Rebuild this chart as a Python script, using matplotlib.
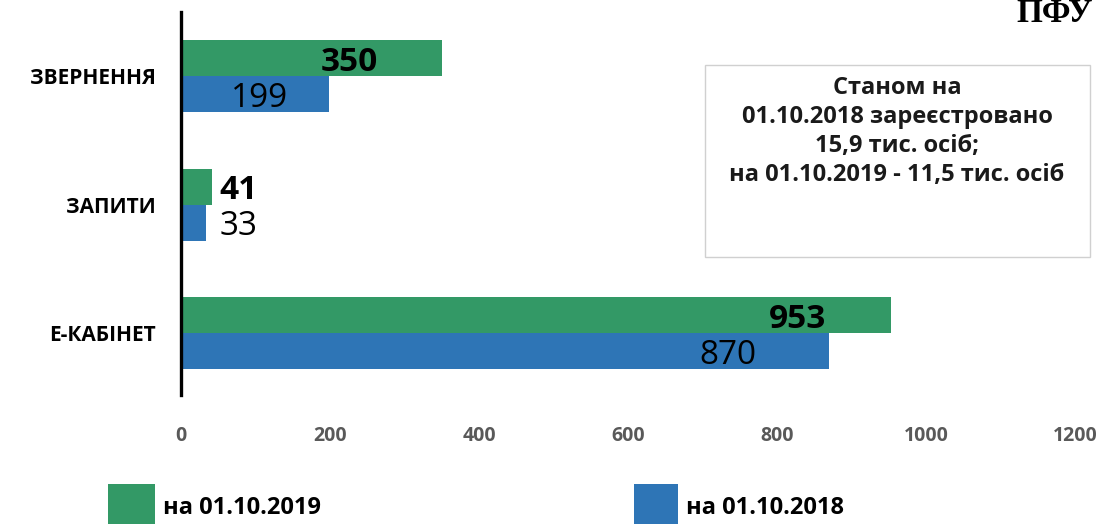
import matplotlib
matplotlib.use('Agg')
import matplotlib.pyplot as plt
import numpy as np
from matplotlib.patches import Rectangle

categories = ['ЗВЕРНЕННЯ', 'ЗАПИТИ', 'Е-КАБІНЕТ']
values_2019 = [350, 41, 953]
values_2018 = [199, 33, 870]
label_2019 = 'на 01.10.2019'
label_2018 = 'на 01.10.2018'
xticks = [0, 200, 400, 600, 800, 1000, 1200]
note_lines = ['Станом на', '01.10.2018 зареєстровано', '15,9 тис. осіб;',
              'на 01.10.2019 - 11,5 тис. осіб']

# where the value labels sit (data x) and how they are aligned
lab_x_2019 = [264, 52, 866]
lab_x_2018 = [144, 52, 773]
lab_ha = ['right', 'left', 'right']

green = '#339966'
blue = '#2e75b6'

plt.rcParams['font.family'] = ['Open Sans', 'DejaVu Sans']

W, H = 1098, 524
fig = plt.figure(figsize=(W / 100, H / 100), dpi=100)
ax = fig.add_axes([181 / W, (H - 395) / H, (1075 - 181) / W, (395 - 12) / H])

y = np.arange(len(categories))
h = 0.28
ax.barh(y - h / 2, values_2019, height=h, color=green)
ax.barh(y + h / 2, values_2018, height=h, color=blue)

for i in range(len(categories)):
    ax.text(lab_x_2019[i], y[i] - h / 2 + 0.03, str(values_2019[i]), ha=lab_ha[i],
            va='center', fontsize=24, fontweight='bold', color='black')
    ax.text(lab_x_2018[i], y[i] + h / 2 + 0.03, str(values_2018[i]), ha=lab_ha[i],
            va='center', fontsize=24, color='black')

ax.set_xlim(0, 1200)
ax.set_ylim(2.48, -0.5)
ax.set_xticks(xticks)
ax.set_xticklabels([str(t) for t in xticks], fontsize=14, fontweight='bold', color='#595959')
ax.set_yticks(y)
ax.set_yticklabels(categories, fontsize=15, fontweight='bold', color='black')
ax.tick_params(axis='x', length=0, pad=22)
ax.tick_params(axis='y', length=0, pad=18)
for s in ['top', 'right', 'bottom']:
    ax.spines[s].set_visible(False)
ax.spines['left'].set_linewidth(2.4)
ax.spines['left'].set_color('black')

# note box
fig.patches.append(Rectangle((705 / W, (H - 257) / H), (1090 - 705) / W, (257 - 65) / H,
                             transform=fig.transFigure, facecolor='white',
                             edgecolor='#d0d0d0', linewidth=1))
for k, line in enumerate(note_lines):
    fig.text(897 / W, (H - 88 - 29 * k) / H, line, ha='center', va='center',
             fontsize=17, fontweight='bold', color='#1a1a1a')

# legend
fig.patches.append(Rectangle((108 / W, 0), 47 / W, 40 / H, transform=fig.transFigure,
                             facecolor=green, edgecolor='none'))
fig.patches.append(Rectangle((634 / W, 0), 44 / W, 40 / H, transform=fig.transFigure,
                             facecolor=blue, edgecolor='none'))
fig.text(163 / W, (H - 508) / H, label_2019, ha='left', va='center',
         fontsize=17, fontweight='bold', color='black')
fig.text(686 / W, (H - 508) / H, label_2018, ha='left', va='center',
         fontsize=17, fontweight='bold', color='black')

fig.text(1016 / W, (H - 22) / H, 'ПФУ', ha='left', va='baseline',
         fontsize=24, fontweight='bold', family='Liberation Serif', color='black')

fig.savefig('out.png', dpi=100)
